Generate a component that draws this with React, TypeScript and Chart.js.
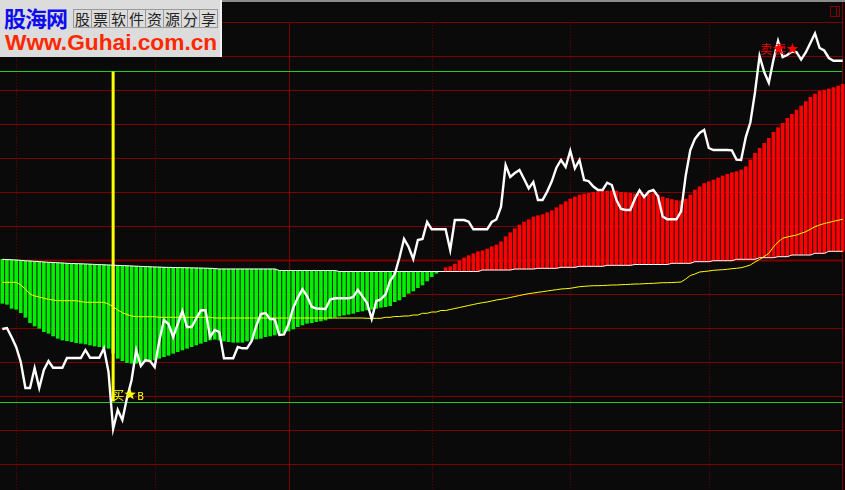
import React, { useEffect, useRef } from "react";
import { Chart, registerables } from "chart.js";

Chart.register(...registerables);

// ---- data (units: chart points, 0 = bottom of the pane) ----
const PRICE = [
  161, 162, 153, 143, 128, 102, 102, 122, 102, 120,
  129, 122.3, 122.3, 122.3, 132, 132, 132, 132, 140, 132.3,
  132.3, 132.3, 141.7, 118, 61, 80, 70, 92, 110, 140,
  124, 130, 129, 123, 149, 170, 166, 153, 166, 179,
  163, 163, 171.5, 179.5, 180, 153, 160, 158, 131.7, 131.7,
  131.7, 143, 141.7, 141.7, 149, 164, 176, 177, 171, 170.7,
  155, 155.5, 166, 182, 192.4, 200.7, 194, 183.3, 181.5, 181.3,
  181, 190.5, 191.7, 191.7, 191.7, 191.7, 193, 200.2, 193.6, 187,
  171, 189, 190.7, 195.6, 209.3, 216, 232.2, 251, 243, 231,
  250, 251, 268, 260.7, 260.7, 260.7, 260.7, 240, 270, 270,
  270, 268.3, 260.7, 260.7, 260.7, 260.7, 268, 270.5, 283, 325,
  313, 317, 320, 311, 301.6, 308, 290, 290, 298.4, 308.7,
  322.3, 330, 323, 339.2, 321.6, 330, 310, 308.8, 303.5, 300,
  300, 307.3, 305, 290, 281, 280, 280, 291.3, 299.7, 293,
  298.4, 300, 293.7, 273.4, 270.7, 270.7, 270.7, 278.6, 314.3, 340,
  351.1, 357, 360, 342, 340, 340, 340, 340, 339.6, 330.4,
  330, 352.6, 367.5, 397.3, 434, 418, 407.3, 430, 449, 433,
  435, 438.4, 437.8, 430.4, 437.5, 447, 456.5, 442, 439.5, 432,
  429.3, 429.3, 429.3,
];

const BASE = [
  230.7, 230.5, 230.2, 230, 229.7, 229.2, 229, 228.7, 228.4, 228,
  227.7, 227.5, 227.2, 227, 226.7, 226.5, 226.3, 226.2, 226, 225.8,
  225.6, 225.4, 225.2, 225, 224.8, 224.6, 224.4, 224.2, 224, 223.8,
  223.6, 223.4, 223.2, 223, 222.9, 222.7, 222.6, 222.5, 222.4, 222.3,
  222.2, 222.1, 222, 221.9, 221.8, 221.7, 221.5, 221, 221, 221,
  221, 221, 221, 221, 221, 221, 221, 221, 221, 221,
  219.5, 219.5, 219.5, 219.5, 219.5, 219.5, 219.5, 219.5, 219.5, 219.5,
  219.5, 219.5, 219.5, 218.5, 218.5, 218.5, 218.5, 218.5, 218.5, 218.5,
  218.5, 218.5, 218.5, 218.5, 218.5, 218.5, 218.5, 218.5, 218.5, 218.5,
  218.5, 218.5, 218.5, 218.5, 218.5, 218.5, 218.5, 218.5, 218.5, 218.5,
  218.5, 218.5, 218.5, 218.5, 220, 220, 220, 220, 220, 220,
  220, 221, 221, 221, 221, 221, 221.7, 221.7, 221.7, 221.7,
  221.7, 222.7, 222.7, 222.7, 222.7, 223.7, 223.7, 223.7, 223.7, 223.7,
  223.7, 224.7, 224.7, 224.7, 224.7, 224.7, 224.7, 225.5, 225.5, 225.5,
  225.5, 225.5, 225.5, 225.5, 225.5, 226.7, 226.7, 226.7, 226.7, 226.7,
  228.3, 228.3, 228.3, 228.3, 229.3, 229.3, 229.3, 229.3, 229.3, 230.7,
  230.7, 230.7, 230.7, 230.7, 232.3, 232.3, 232.3, 232.3, 233.3, 233.3,
  233.3, 235, 235, 235, 235, 235, 236.7, 236.7, 236.7, 238.7,
  238.7, 238.7, 238.7,
];

const HIST = [
  186.7, 185.7, 181.7, 180.7, 177.3, 172.7, 167.3, 164, 161.7, 158.3,
  156.7, 154, 151.7, 150, 149.3, 148.3, 147.3, 146.7, 146, 145,
  144, 143.3, 142.3, 141.7, 137, 131.7, 129.3, 127.3, 126.7, 126.7,
  127.3, 128.3, 129.3, 130, 131.7, 133.3, 134.7, 136.7, 138.3, 140,
  141.7, 143.3, 145, 146.7, 148.3, 150, 150.7, 150, 149, 148.3,
  147.7, 147.7, 147.7, 149, 150, 151, 151.7, 153.3, 154, 155,
  156.7, 157.3, 159, 161, 163.3, 165, 166.7, 167.3, 168.3, 169,
  170, 171.7, 172.7, 174, 175, 175.7, 176.7, 178.3, 179, 180,
  180.7, 181.7, 182.7, 183.3, 184.3, 188.3, 190, 193.3, 196.7, 199,
  202.3, 205, 209, 213.3, 216.7, 218.5, 222.3, 223.3, 226, 229.3,
  232, 234.3, 236.3, 238.3, 239.3, 241, 243.3, 245, 248.3, 253.3,
  257.3, 261.3, 265, 268, 270.3, 273, 274.3, 275.3, 277.3, 279.3,
  282.3, 285.3, 288.3, 291, 293, 295, 296, 296.7, 297.7, 298.3,
  299, 299, 299, 299, 297.7, 297.3, 296.7, 296, 295.5, 295,
  296, 296.5, 295, 293, 291.5, 290.5, 289.5, 289, 291, 295,
  300, 303.3, 306.5, 308.3, 310, 312, 314, 315.7, 317.3, 318.3,
  320, 323.3, 330, 336.7, 341.7, 346.7, 351.7, 357.7, 362.3, 366.7,
  371.7, 375.7, 380, 384, 388.3, 392.7, 396, 399, 400, 401,
  402.3, 404, 405.7,
];

const MA_LINE = [
  207.7, 207.7, 207.7, 207.7, 205, 201, 196, 194, 193, 191.7,
  190.7, 190, 189.3, 189.3, 189.3, 189.3, 189.3, 188.5, 187.7, 187.7,
  187.7, 187.7, 187.7, 186, 183.3, 180, 177.3, 175.5, 174, 173.3,
  173.3, 173.3, 173.3, 173.3, 172.7, 172.7, 172.7, 172.7, 172.7, 172.7,
  172.7, 172.7, 172.7, 172.7, 172.7, 172.7, 172, 172, 172, 172,
  172, 172, 172, 172, 172, 172, 172, 172, 172, 172,
  172, 172, 172, 172, 172, 172, 172, 172, 172, 172,
  172, 172, 172, 172, 172, 172, 172, 172, 172, 171.7,
  171.7, 171.7, 171.7, 172.7, 172.7, 173.5, 173.5, 174, 174, 175,
  175, 176.7, 176.7, 178, 178, 179.5, 179.5, 180.5, 181.5, 182.5,
  183.5, 184.5, 185.5, 186.5, 187.3, 188, 189, 190, 190.7, 191.5,
  192.5, 193.5, 194.5, 195.5, 196.3, 197, 197.7, 198.3, 199, 199.7,
  200.3, 201, 201.3, 201.7, 202.5, 203.3, 203.7, 204, 204.3, 204.3,
  204.5, 204.7, 205, 205, 205.3, 205.5, 205.7, 206, 206, 206.3,
  206.5, 206.7, 207, 207.3, 207.3, 207.5, 207.7, 208, 211, 214.5,
  216, 218, 218.5, 219, 219.7, 220, 220.3, 220.7, 221.3, 221.7,
  222.3, 223.5, 225, 228, 230.5, 233.5, 236.7, 243, 248, 251.7,
  253, 254, 255, 256.7, 258.3, 260.7, 263.3, 265, 266.5, 267.5,
  268.7, 269.7, 270.7,
];

const CATEGORIES = PRICE.map((_, i) => String(i + 1));

const GRID_LEVELS = [467.5, 433.5, 399.5, 365.5, 331.5, 297.5, 263.5, 229.5, 195.5, 161.5, 127.5, 93.5, 59.5, 25.5];
const ZERO_LEVEL = 229.5;
const MARK_LEVELS = [418.5, 88.5];
const DIVIDERS = [3, 33, 62, 93, 123, 153];
const SOLID_DIVIDER = 62;
const BUY_SIGNALS = [{ index: 24, value: 90.5, text: "买★B" }];
const SELL_SIGNALS = [
  { index: 164, value: 436, text: "卖★" },
  { index: 167, value: 436, text: "卖★" },
];
const LOGO_CELLS = ["股", "票", "软", "件", "资", "源", "分", "享"];

// ---- style ----
const BG = "#0a0a0a";
const GRID_RED = "#800000";
const MARK_GREEN = "#22cc22";
const UP_RED = "#ff0000";
const DOWN_GREEN = "#00f000";
const RIGHT_EDGE = 843;
const CJK_FONT = '12px "Noto Sans CJK SC"';
const LATIN_FONT = '10px "DejaVu Sans"';
const STAR_SIZE = 12;

function fillStar(ctx: CanvasRenderingContext2D, cx: number, cy: number, r: number) {
  ctx.beginPath();
  for (let k = 0; k < 10; k++) {
    const rad = k % 2 === 0 ? r : r * 0.42;
    const a = -Math.PI / 2 + (k * Math.PI) / 5;
    const px = cx + rad * Math.cos(a);
    const py = cy + rad * Math.sin(a);
    if (k === 0) ctx.moveTo(px, py);
    else ctx.lineTo(px, py);
  }
  ctx.closePath();
  ctx.fill();
}

function drawSignal(ctx: CanvasRenderingContext2D, text: string, x: number, y: number) {
  let cx = x;
  for (const ch of Array.from(text)) {
    if (ch === "★") {
      fillStar(ctx, cx + STAR_SIZE / 2, y - 5, STAR_SIZE / 2);
      cx += STAR_SIZE + 1;
      continue;
    }
    ctx.font = /[A-Za-z0-9]/.test(ch) ? LATIN_FONT : CJK_FONT;
    ctx.fillText(ch, cx, y);
    cx += ctx.measureText(ch).width;
  }
}

const decorPlugin = {
  id: "stockDecor",
  beforeDraw(chart: any) {
    const { ctx, scales } = chart;
    const x = scales.x;
    const y = scales.y;
    ctx.save();
    ctx.fillStyle = BG;
    ctx.fillRect(0, 0, chart.width, chart.height);

    ctx.strokeStyle = GRID_RED;
    GRID_LEVELS.forEach((v) => {
      const py = y.getPixelForValue(v);
      ctx.lineWidth = v === ZERO_LEVEL ? 2 : 1;
      ctx.beginPath();
      ctx.moveTo(0, py);
      ctx.lineTo(RIGHT_EDGE, py);
      ctx.stroke();
    });

    const topY = y.getPixelForValue(GRID_LEVELS[0]);
    ctx.lineWidth = 1;
    DIVIDERS.forEach((idx) => {
      const px = Math.round(x.getPixelForValue(idx)) + 0.5;
      ctx.setLineDash(idx === SOLID_DIVIDER ? [] : [1, 2]);
      ctx.beginPath();
      ctx.moveTo(px, topY);
      ctx.lineTo(px, chart.height);
      ctx.stroke();
    });
    ctx.setLineDash([]);

    // right border
    ctx.beginPath();
    ctx.moveTo(RIGHT_EDGE - 0.5, 2);
    ctx.lineTo(RIGHT_EDGE - 0.5, chart.height);
    ctx.stroke();

    // top strip
    ctx.fillStyle = "#8c8c8c";
    ctx.fillRect(0, 0, chart.width, 2);

    // small window icon
    ctx.strokeRect(830.5, 6.5, 9, 10);
    ctx.beginPath();
    ctx.moveTo(836.5, 6.5);
    ctx.lineTo(836.5, 16.5);
    ctx.stroke();

    // marker lines
    ctx.strokeStyle = MARK_GREEN;
    MARK_LEVELS.forEach((v) => {
      const py = Math.round(y.getPixelForValue(v)) + 0.5;
      ctx.beginPath();
      ctx.moveTo(0, py);
      ctx.lineTo(RIGHT_EDGE - 1, py);
      ctx.stroke();
    });
    ctx.restore();
  },
  afterDatasetDraw(chart: any, args: any) {
    if (args.index !== 3) return;
    const { ctx, scales } = chart;
    ctx.save();
    ctx.strokeStyle = "#ffff00";
    ctx.lineWidth = 3;
    BUY_SIGNALS.forEach((s) => {
      const px = scales.x.getPixelForValue(s.index);
      ctx.beginPath();
      ctx.moveTo(px, scales.y.getPixelForValue(MARK_LEVELS[0]));
      ctx.lineTo(px, scales.y.getPixelForValue(MARK_LEVELS[1]));
      ctx.stroke();
    });
    ctx.restore();
  },
  afterDatasetsDraw(chart: any) {
    const { ctx, scales } = chart;
    ctx.save();
    ctx.textBaseline = "alphabetic";
    ctx.textAlign = "left";
    ctx.fillStyle = "#ffff00";
    BUY_SIGNALS.forEach((s) => {
      drawSignal(ctx, s.text, scales.x.getPixelForValue(s.index) - 1, scales.y.getPixelForValue(s.value));
    });
    ctx.fillStyle = UP_RED;
    SELL_SIGNALS.forEach((s) => {
      drawSignal(ctx, s.text, scales.x.getPixelForValue(s.index) + 1, scales.y.getPixelForValue(s.value));
    });
    ctx.restore();
  },
};

function Logo() {
  return (
    <div
      style={{
        position: "absolute",
        left: 0,
        top: 0,
        width: 220,
        height: 57,
        background: "#dcdcdc",
        borderRight: "2px solid #f0f0f0",
        overflow: "hidden",
      }}
    >
      <div
        style={{
          position: "absolute",
          left: 4,
          top: 6,
          font: 'bold 22px "Noto Sans CJK SC"',
          lineHeight: "22px",
          letterSpacing: "-1px",
          color: "#0c0cee",
          whiteSpace: "nowrap",
        }}
      >
        股海网
      </div>
      <div style={{ position: "absolute", left: 73, top: 9, display: "flex" }}>
        {LOGO_CELLS.map((c, i) => (
          <span
            key={i}
            style={{
              width: 19,
              height: 19,
              boxSizing: "border-box",
              border: "1px solid #9a9a9a",
              marginLeft: i === 0 ? 0 : -1,
              font: '15px "Noto Sans CJK SC"',
              lineHeight: "17px",
              textAlign: "center",
              color: "#222",
              display: "block",
            }}
          >
            {c}
          </span>
        ))}
      </div>
      <div
        style={{
          position: "absolute",
          left: 5,
          top: 31,
          font: 'bold 22.7px "Liberation Sans"',
          lineHeight: "22.7px",
          color: "#ff2800",
          whiteSpace: "nowrap",
        }}
      >
        Www.Guhai.com.cn
      </div>
    </div>
  );
}

export default function App() {
  const ref = useRef<HTMLCanvasElement>(null);

  useEffect(() => {
    document.body.style.margin = "0";
    document.body.style.background = BG;
    const canvas = ref.current;
    if (!canvas) return;
    const barData = HIST.map((v, i) => [BASE[i], v]);
    const barColors = HIST.map((v, i) => (v >= BASE[i] ? UP_RED : DOWN_GREEN));
    const chart = new Chart(canvas, {
      type: "bar",
      data: {
        labels: CATEGORIES,
        datasets: [
          {
            type: "line",
            label: "价格",
            data: PRICE,
            borderColor: "#ffffff",
            borderWidth: 2.4,
            pointRadius: 0,
            tension: 0,
            order: 0,
          } as any,
          {
            type: "line",
            label: "均线",
            data: MA_LINE,
            borderColor: "#ffff00",
            borderWidth: 1,
            pointRadius: 0,
            tension: 0,
            order: 1,
          } as any,
          {
            type: "line",
            label: "基线",
            data: BASE,
            borderColor: "#ffffff",
            borderWidth: 1,
            pointRadius: 0,
            tension: 0,
            order: 2,
          } as any,
          {
            type: "bar",
            label: "能量",
            data: barData as any,
            backgroundColor: barColors,
            borderWidth: 0,
            barThickness: 3,
            order: 3,
          } as any,
        ],
      },
      options: {
        animation: false,
        responsive: false,
        devicePixelRatio: 1,
        layout: { padding: 0 },
        plugins: { legend: { display: false }, tooltip: { enabled: false } },
        scales: {
          x: { display: false, offset: true },
          y: { display: false, min: 0, max: 490 },
        },
      },
      plugins: [decorPlugin],
    });
    return () => chart.destroy();
  }, []);

  return (
    <div style={{ position: "relative", width: 845, height: 490, overflow: "hidden", background: BG }}>
      <canvas ref={ref} width={845} height={490} style={{ display: "block", width: 845, height: 490 }} />
      <Logo />
    </div>
  );
}
